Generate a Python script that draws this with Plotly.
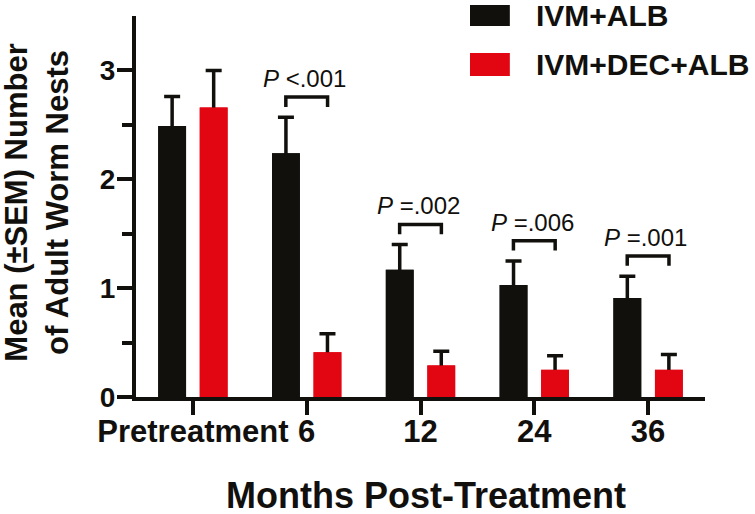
import plotly.graph_objects as go

categories = ["Pretreatment", "6", "12", "24", "36"]
ivm_alb_mean = [2.49, 2.24, 1.17, 1.03, 0.91]
ivm_alb_sem = [0.27, 0.33, 0.23, 0.22, 0.20]
ivm_dec_alb_mean = [2.66, 0.41, 0.29, 0.25, 0.25]
ivm_dec_alb_sem = [0.34, 0.17, 0.13, 0.13, 0.14]
p_labels = [None, "<i>P</i> <.001", "<i>P</i> =.002", "<i>P</i> =.006", "<i>P</i> =.001"]
series_names = ["IVM+ALB", "IVM+DEC+ALB"]

BLACK = "#12100d"
RED = "#e20613"
FONT = "Liberation Sans, Arial, Helvetica, sans-serif"

x = list(range(len(categories)))
series = [
    (series_names[0], ivm_alb_mean, ivm_alb_sem, BLACK, "a"),
    (series_names[1], ivm_dec_alb_mean, ivm_dec_alb_sem, RED, "b"),
]

fig = go.Figure()
# bars carrying the error bars (lower half is hidden by the overlay bars below)
for name, mean, sem, col, grp in series:
    fig.add_trace(go.Bar(
        x=x, y=mean, name=name, offsetgroup=grp,
        marker=dict(color=col, line=dict(width=0)),
        error_y=dict(type="data", array=sem, symmetric=True,
                     color=BLACK, thickness=3.5, width=8),
        showlegend=False,
    ))
for name, mean, sem, col, grp in series:
    fig.add_trace(go.Bar(
        x=x, y=mean, name=name, offsetgroup=grp,
        marker=dict(color=col, line=dict(width=0)),
        showlegend=False, hoverinfo="skip",
    ))

# significance brackets
bar_offset = 0.1834
for i, lab in enumerate(p_labels):
    if lab is None:
        continue
    top = max(ivm_alb_mean[i] + ivm_alb_sem[i], ivm_dec_alb_mean[i] + ivm_dec_alb_sem[i])
    yb = top + 0.185
    leg = 0.09
    fig.add_shape(type="path", xref="x", yref="y",
                  path=f"M {i-bar_offset},{yb-leg} L {i-bar_offset},{yb} L {i+bar_offset},{yb} L {i+bar_offset},{yb-leg}",
                  line=dict(color=BLACK, width=3.5))
    fig.add_annotation(x=i - 0.02, y=yb, xref="x", yref="y", text=lab, showarrow=False,
                       yanchor="bottom", xanchor="center", yshift=3,
                       font=dict(family=FONT, size=24, color=BLACK))

# custom legend
legend_items = [(series_names[0], BLACK, 1.029, 0.974), (series_names[1], RED, 0.903, 0.8425)]
for name, col, y1, y0 in legend_items:
    fig.add_shape(type="rect", xref="paper", yref="paper", x0=0.587, x1=0.657, y0=y0, y1=y1,
                  fillcolor=col, line=dict(width=0))
    fig.add_annotation(x=0.699, y=(y0 + y1) / 2, xref="paper", yref="paper", text=name,
                       showarrow=False, xanchor="left", yanchor="middle",
                       font=dict(family=FONT, size=30, color=BLACK, weight="bold"))

# axis titles
fig.add_annotation(x=-0.174, y=0.51, xref="paper", yref="paper",
                   text="Mean (±SEM) Number<br>of Adult Worm Nests", textangle=-90,
                   showarrow=False, xanchor="center", yanchor="middle",
                   font=dict(family=FONT, size=31, color=BLACK, weight="bold"))
fig.add_annotation(x=0.51, y=-0.258, xref="paper", yref="paper",
                   text="Months Post-Treatment", showarrow=False,
                   xanchor="center", yanchor="middle", height=36, valign="middle",
                   font=dict(family=FONT, size=36, color=BLACK, weight="bold"))

fig.update_layout(
    width=755, height=514,
    margin=dict(l=136, r=50, t=16, b=117, autoexpand=False),
    paper_bgcolor="white", plot_bgcolor="white",
    barmode="group", bargap=0.27, bargroupgap=0.33,
    font=dict(family=FONT, color=BLACK),
    xaxis=dict(range=[-0.5, 4.5], tickvals=x, ticktext=categories,
               showline=True, linewidth=4, linecolor=BLACK, showgrid=False, zeroline=False,
               ticks="outside", ticklen=14, tickwidth=4, tickcolor=BLACK,
               ticklabelstandoff=-10,
               tickfont=dict(family=FONT, size=31, color=BLACK, weight="bold")),
    yaxis=dict(range=[0, 3.5], tickvals=[0, 1, 2, 3],
               showline=True, linewidth=4, linecolor=BLACK, showgrid=False, zeroline=False,
               ticks="outside", ticklen=15, tickwidth=4, tickcolor=BLACK,
               ticklabelstandoff=-4,
               minor=dict(tickvals=[0.5, 1.5, 2.5], ticks="outside", ticklen=10,
                          tickwidth=4, tickcolor=BLACK, showgrid=False),
               tickfont=dict(family=FONT, size=28, color=BLACK, weight="bold")),
)

fig.write_html("out.html", config={"displayModeBar": False},
               post_script="document.body.style.margin='0px';")
